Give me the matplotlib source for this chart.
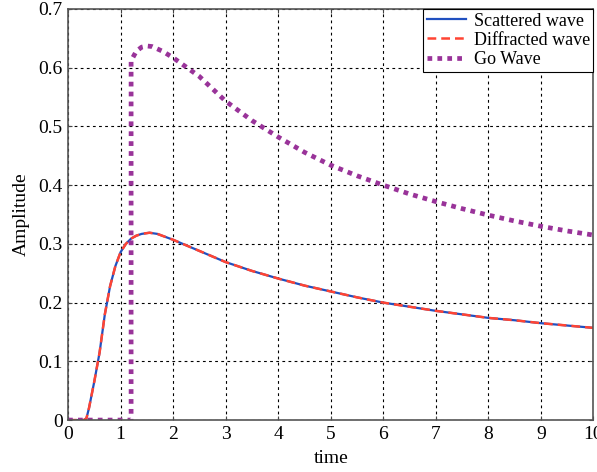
import numpy as np
import matplotlib.pyplot as plt

##data
#scattered / diffracted wave (the two curves lie on top of each other)
t_sc = [0, 0.1, 0.2, 0.3, 0.35, 0.4, 0.5, 0.6, 0.7, 0.8, 0.9, 1.0, 1.1, 1.2, 1.3, 1.4, 1.55,
        1.7, 2.0, 2.5, 3, 3.5, 4, 4.5, 5, 5.5, 6, 6.5, 7, 7.5, 8, 8.5, 9, 9.5, 10]
a_sc = [0, 0, 0, 0, 0.003, 0.021, 0.066, 0.115, 0.180, 0.228, 0.262, 0.286, 0.300, 0.309, 0.314, 0.317, 0.319,
        0.317, 0.307, 0.288, 0.269, 0.254, 0.241, 0.229, 0.219, 0.209, 0.200, 0.193, 0.186, 0.180, 0.174, 0.170, 0.165, 0.161, 0.157]
#geometric optics wave
t_go = [0, 0.6, 1.2, 1.2, 1.3, 1.4, 1.5, 1.6, 1.8, 2.0, 2.5, 3, 3.5, 4, 4.5, 5, 5.5, 6, 6.5, 7, 7.5, 8, 8.5, 9, 9.5, 10]
a_go = [0, 0, 0, 0.612, 0.628, 0.635, 0.637, 0.636, 0.628, 0.617, 0.585, 0.543, 0.510, 0.482, 0.456, 0.434, 0.416, 0.400, 0.385, 0.372, 0.360, 0.349, 0.339, 0.330, 0.322, 0.315]

x_ticks = np.arange(0, 11, 1)
y_ticks = [0, 0.1, 0.2, 0.3, 0.4, 0.5, 0.6, 0.7]
y_labels = ['0', '0.1', '0.2', '0.3', '0.4', '0.5', '0.6', '0.7']

##style
plt.rcParams['font.family'] = ['Liberation Serif', 'DejaVu Serif']
plt.rcParams['font.size'] = 14

fig = plt.figure(figsize=(5.97, 4.72), dpi=100)
ax = fig.add_axes([0.114, 0.110, 0.880, 0.871])

ax.plot(t_sc, a_sc, color='#2050c0', lw=1.6, label='Scattered wave')
ax.plot(t_sc, a_sc, color='#ff4433', lw=1.8, dashes=(3.5, 2), label='Diffracted wave')
ax.plot(t_go, a_go, color='#993399', lw=3.4, dashes=(1, 1.1), dash_capstyle='butt',
        label='Go Wave')

ax.set_xlim(0, 10)
ax.set_ylim(0, 0.7)
ax.set_xticks(x_ticks)
ax.set_yticks(y_ticks)
ax.set_yticklabels(y_labels)
ax.tick_params(direction='in', top=True, right=True, length=3, pad=4, color='#444444')
ax.grid(True, color='black', linestyle=(0, (2.5, 3)), lw=0.8)
ax.set_xlabel('time', labelpad=5)
ax.set_ylabel('Amplitude', labelpad=6)
for s in ax.spines.values():
    s.set_linewidth(1.2)
    s.set_color('#555555')

leg = ax.legend(loc='upper right', fancybox=False, framealpha=1, edgecolor='black',
                borderpad=0.2, labelspacing=0.12, handlelength=2.2, handletextpad=0.4,
                borderaxespad=0.0, fontsize=13)
leg.get_frame().set_linewidth(0.8)

fig.savefig('out.png', dpi=100)
